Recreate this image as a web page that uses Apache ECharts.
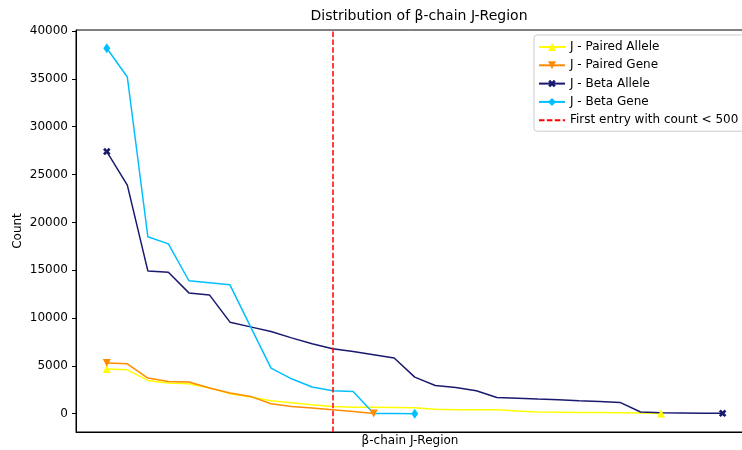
<!DOCTYPE html>
<html>
<head>
<meta charset="utf-8">
<script src="https://cdn.jsdelivr.net/npm/echarts@6/dist/echarts.min.js"></script>
<style>
  html, body { margin: 0; padding: 0; background: #fff; }
  #chart { width: 742px; height: 450px; }
</style>
</head>
<body>
<div id="chart"></div>
<script>
// Counts per J-region entry, sorted descending for each series
const pairedAllele = [4670, 4590, 3480, 3200, 3130, 2700, 2090, 1740, 1350, 1150, 940, 760, 690, 680, 660, 630, 480, 420, 420, 410, 280, 180, 160, 140, 130, 100, 70, 20];
const pairedGene = [5290, 5220, 3730, 3370, 3310, 2680, 2160, 1810, 1040, 760, 590, 420, 240, 30];
const betaAllele = [27400, 23900, 14930, 14790, 12630, 12420, 9570, 9080, 8590, 7930, 7310, 6790, 6500, 6160, 5820, 3830, 2950, 2750, 2400, 1700, 1620, 1530, 1460, 1360, 1270, 1180, 180, 100, 80, 60, 40];
const betaGene = [38200, 35200, 18500, 17750, 13900, 13700, 13470, 9100, 4770, 3650, 2790, 2400, 2330, 30, 20, 10];
const cutoffIndex = 11; // first entry with count < 500
const yTicks = [0, 5000, 10000, 15000, 20000, 25000, 30000, 35000, 40000];

const FONT = 'DejaVu Sans';
const longest = Math.max(pairedAllele.length, pairedGene.length, betaAllele.length, betaGene.length) - 1;
const allMax = Math.max(...pairedAllele, ...pairedGene, ...betaAllele, ...betaGene);
const yPad = allMax * 0.05;
const xPad = longest * 0.05;
// the figure is cut short on the right, so the frame runs past the canvas edge
const xViewMax = longest + 1.04;

const CUTOFF_STYLE = { color: '#ff0000', width: 1.5, type: [5.5, 2.4] };

const toPairs = arr => arr.map((v, i) => [i, v]);
// markers only at the first and last entry of each series
const endsOnly = (size, len) => (val, p) => (p.dataIndex === 0 || p.dataIndex === len - 1) ? size : 0;

const X_PATH = 'path://M-1,-3L1,-3L1,-1L3,-1L3,1L1,1L1,3L-1,3L-1,1L-3,1L-3,-1L-1,-1Z';

function lineSeries(name, data, color, symbol, size, rotate) {
  return {
    name: name,
    type: 'line',
    data: toPairs(data),
    showSymbol: true,
    symbol: symbol,
    symbolRotate: rotate || 0,
    symbolSize: endsOnly(size, data.length),
    lineStyle: { color: color, width: 1.5 },
    itemStyle: { color: color },
    animation: false
  };
}

const chart = echarts.init(document.getElementById('chart'));
chart.setOption({
  backgroundColor: '#fff',
  textStyle: { fontFamily: FONT },
  title: {
    text: 'Distribution of β-chain J-Region',
    left: 414, top: 4, textAlign: 'center',
    textStyle: { fontFamily: FONT, fontSize: 14, fontWeight: 'normal', color: '#000' }
  },
  grid: {
    left: 76, top: 30, right: -2, height: 402,
    outerBoundsMode: 'none', containLabel: false,
    show: true, borderColor: '#000', borderWidth: 1, backgroundColor: 'transparent'
  },
  legend: {
    orient: 'vertical',
    left: 534, top: 35,
    itemWidth: 26, itemHeight: 10, itemGap: 6.3,
    padding: [6, 10, 5, 4],
    borderColor: '#cccccc', borderWidth: 1, borderRadius: 3,
    backgroundColor: 'rgba(255,255,255,0.8)',
    textStyle: { fontFamily: FONT, fontSize: 12, color: '#000' },
    data: [
      'J - Paired Allele', 'J - Paired Gene', 'J - Beta Allele', 'J - Beta Gene',
      {
        name: 'First entry with count < 500',
        itemStyle: { color: 'rgba(0,0,0,0)', borderColor: 'rgba(0,0,0,0)', borderWidth: 0 }
      }
    ]
  },
  xAxis: {
    type: 'value',
    min: -xPad, max: xViewMax,
    name: 'β-chain J-Region',
    nameLocation: 'middle', nameGap: 3,
    nameTextStyle: { fontFamily: FONT, fontSize: 12, color: '#000', verticalAlign: 'top' },
    axisLine: { show: true, onZero: false, lineStyle: { color: '#000', width: 1 } },
    axisTick: { show: false },
    axisLabel: { show: false },
    splitLine: { show: false }
  },
  yAxis: {
    type: 'value',
    min: -yPad, max: allMax + yPad,
    name: 'Count',
    nameLocation: 'middle', nameGap: 52, nameMoveOverlap: false,
    nameTextStyle: { fontFamily: FONT, fontSize: 12, color: '#000' },
    axisLine: { show: true, onZero: false, lineStyle: { color: '#000', width: 1 } },
    axisTick: { show: true, length: 4, customValues: yTicks, lineStyle: { color: '#000' } },
    axisLabel: {
      customValues: yTicks, fontFamily: FONT, fontSize: 12, color: '#000', margin: 8,
      formatter: v => String(v)
    },
    splitLine: { show: false }
  },
  series: [
    lineSeries('J - Paired Allele', pairedAllele, '#ffff00', 'triangle', 8),
    lineSeries('J - Paired Gene', pairedGene, '#ff8c00', 'triangle', 8, 180),
    lineSeries('J - Beta Allele', betaAllele, '#191970', X_PATH, 8, 45),
    lineSeries('J - Beta Gene', betaGene, '#00bfff', 'diamond', [7, 10]),
    {
      name: 'First entry with count < 500',
      type: 'line',
      data: [],
      symbol: 'none',
      lineStyle: CUTOFF_STYLE,
      itemStyle: { color: '#ff0000' },
      animation: false,
      markLine: {
        silent: true,
        symbol: 'none',
        label: { show: false },
        lineStyle: CUTOFF_STYLE,
        data: [{ xAxis: cutoffIndex }]
      }
    }
  ]
});
</script>
</body>
</html>
